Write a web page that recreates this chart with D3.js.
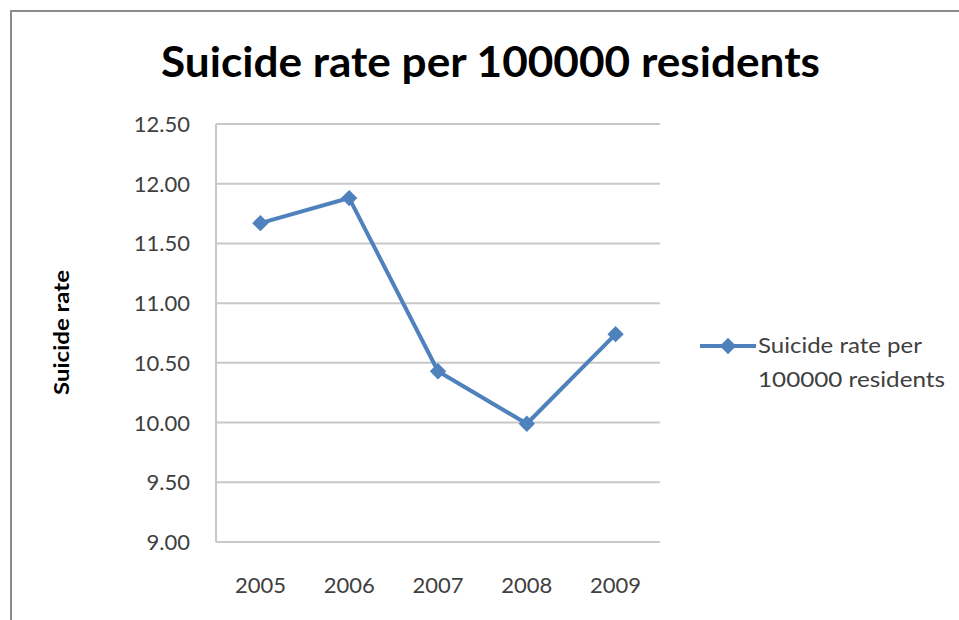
<!DOCTYPE html>
<html>
<head>
<meta charset="utf-8">
<script src="https://cdn.jsdelivr.net/npm/d3@7"></script>
<style>
  body { margin: 0; background: #fff; }
  text { font-family: Lato, "Open Sans", "DejaVu Sans", sans-serif; }
</style>
</head>
<body>
<div id="chart"></div>
<script>
// chart data
const years = ["2005", "2006", "2007", "2008", "2009"];
const rates = [11.67, 11.88, 10.43, 9.99, 10.74];
const yTicks = [9.0, 9.5, 10.0, 10.5, 11.0, 11.5, 12.0, 12.5];
const seriesName = ["Suicide rate per", "100000 residents"];

const width = 959, height = 620;
const plot = { left: 216, right: 660, top: 124, bottom: 542 };
const blue = "#4f81bd";

const svg = d3.select("#chart").append("svg")
  .attr("width", width)
  .attr("height", height);

// outer frame (runs off the right and bottom)
svg.append("rect")
  .attr("x", 11).attr("y", 11)
  .attr("width", 980).attr("height", 640)
  .attr("fill", "none")
  .attr("stroke", "#8c8c8c")
  .attr("stroke-width", 2);

// title
svg.append("text")
  .attr("x", 161).attr("y", 77)
  .attr("font-size", 42)
  .attr("font-weight", "bold")
  .attr("fill", "#000")
  .attr("textLength", 659)
  .attr("lengthAdjust", "spacingAndGlyphs")
  .text("Suicide rate per 100000 residents");

const xScale = d3.scaleBand()
  .domain(years)
  .range([plot.left, plot.right]);

const yScale = d3.scaleLinear()
  .domain([9, 12.5])
  .range([plot.bottom, plot.top]);

// gridlines
svg.append("g")
  .selectAll("line")
  .data(yTicks)
  .join("line")
  .attr("x1", plot.left).attr("x2", plot.right)
  .attr("y1", d => yScale(d)).attr("y2", d => yScale(d))
  .attr("stroke", "#c8c8c8")
  .attr("stroke-width", 2);

// y axis line
svg.append("line")
  .attr("x1", plot.left).attr("x2", plot.left)
  .attr("y1", plot.top).attr("y2", plot.bottom)
  .attr("stroke", "#c8c8c8")
  .attr("stroke-width", 2);

// y tick labels
svg.append("g")
  .selectAll("text")
  .data(yTicks)
  .join("text")
  .attr("x", 190)
  .attr("y", d => yScale(d) + 8)
  .attr("text-anchor", "end")
  .attr("font-size", 22)
  .attr("fill", "#404040")
  .text(d => d3.format(".2f")(d));

// x tick labels
svg.append("g")
  .selectAll("text")
  .data(years)
  .join("text")
  .attr("x", d => xScale(d) + xScale.bandwidth() / 2)
  .attr("y", 593)
  .attr("text-anchor", "middle")
  .attr("font-size", 22)
  .attr("fill", "#404040")
  .text(d => d);

// y axis title
svg.append("text")
  .attr("transform", "translate(69,333) rotate(-90)")
  .attr("x", -62)
  .attr("font-size", 20)
  .attr("font-weight", "bold")
  .attr("fill", "#000")
  .attr("textLength", 125)
  .attr("lengthAdjust", "spacingAndGlyphs")
  .text("Suicide rate");

// series line
const line = d3.line()
  .x((d, i) => xScale(years[i]) + xScale.bandwidth() / 2)
  .y(d => yScale(d));

svg.append("path")
  .datum(rates)
  .attr("d", line)
  .attr("fill", "none")
  .attr("stroke", blue)
  .attr("stroke-width", 4)
  .attr("stroke-linejoin", "round");

const diamond = d3.symbol().type(d3.symbolDiamond2).size(170);

svg.append("g")
  .selectAll("path")
  .data(rates)
  .join("path")
  .attr("transform", (d, i) =>
    `translate(${xScale(years[i]) + xScale.bandwidth() / 2},${yScale(d)})`)
  .attr("d", diamond)
  .attr("fill", blue);

// legend
const lg = svg.append("g").attr("transform", "translate(700,346)");
lg.append("line")
  .attr("x1", 0).attr("x2", 56)
  .attr("stroke", blue)
  .attr("stroke-width", 4);
lg.append("path")
  .attr("transform", "translate(28,0)")
  .attr("d", diamond)
  .attr("fill", blue);
lg.selectAll("text")
  .data(seriesName)
  .join("text")
  .attr("x", 58)
  .attr("y", (d, i) => 7 + i * 34)
  .attr("font-size", 22)
  .attr("fill", "#404040")
  .attr("textLength", (d, i) => i === 0 ? 164 : 187)
  .attr("lengthAdjust", "spacingAndGlyphs")
  .text(d => d);
</script>
</body>
</html>
